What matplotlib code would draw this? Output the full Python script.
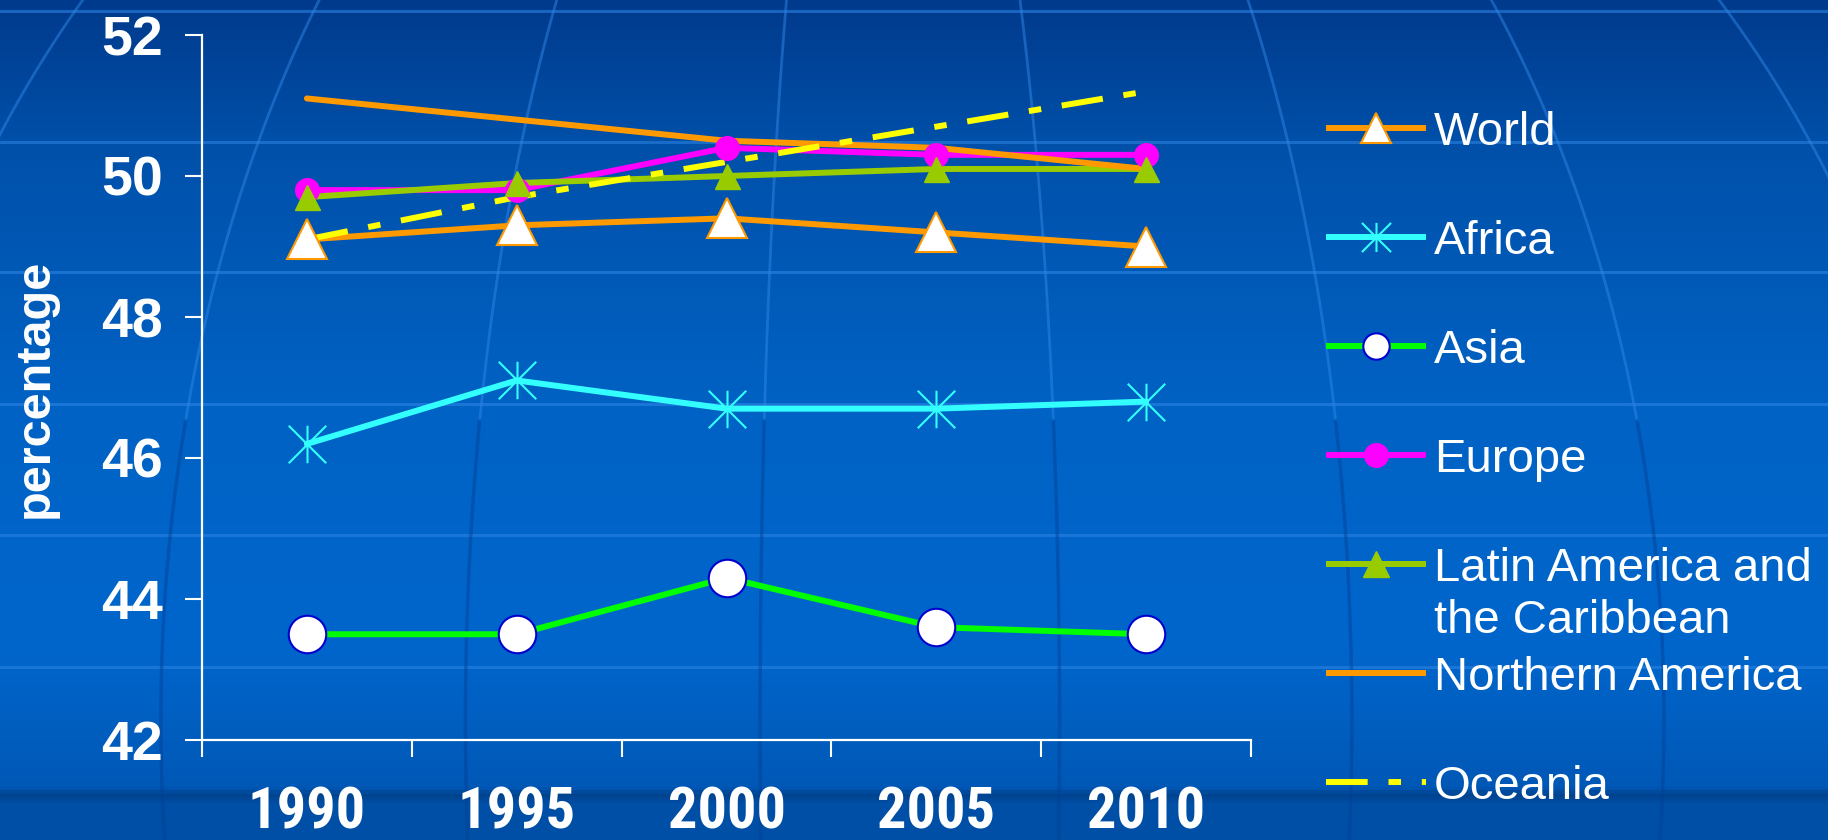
import numpy as np
import matplotlib
import matplotlib.pyplot as plt
from matplotlib.colors import LinearSegmentedColormap
from matplotlib.path import Path

matplotlib.rcParams['lines.scale_dashes'] = False

# --------------------------------------------------------------------
# data
years = ['1990', '1995', '2000', '2005', '2010']
world = [49.1, 49.3, 49.4, 49.2, 49.0]
africa = [46.2, 47.1, 46.7, 46.7, 46.8]
asia = [43.5, 43.5, 44.3, 43.6, 43.5]
europe = [49.8, 49.8, 50.4, 50.3, 50.3]
latin_america = [49.7, 49.9, 50.0, 50.1, 50.1]
northern_america = [51.1, 50.8, 50.5, 50.4, 50.1]
oceania = [49.1, 49.7, 50.2, 50.7, 51.2]

labels = ['World', 'Africa', 'Asia', 'Europe',
          'Latin America and\nthe Caribbean', 'Northern America', 'Oceania']

NARROW = ['Roboto Condensed', 'Liberation Sans']
REGULAR = ['Liberation Sans']

# X plus vertical bar, like the office "asterisk" marker
asterisk = Path([(-1, -1), (1, 1), (-1, 1), (1, -1), (0, -1), (0, 1)],
                [Path.MOVETO, Path.LINETO, Path.MOVETO, Path.LINETO,
                 Path.MOVETO, Path.LINETO])

LW = 4.3
DASH = (0, (30, 15, 9, 15))

# style per series: line colour, linestyle, marker kwargs (plot), marker size in legend
styles = [
    dict(color='#ff9900', ls='-', mk=dict(marker='^', ms=29, mfc='white', mec='#ff9900', mew=1.5), lms=21),
    dict(color='#33ffff', ls='-', mk=dict(marker=asterisk, ms=27, mfc='none', mec='#33ffff', mew=1.5), lms=21),
    dict(color='#00ff00', ls='-', mk=dict(marker='o', ms=27, mfc='white', mec='#0000cc', mew=1.5), lms=19),
    dict(color='#ff00ff', ls='-', mk=dict(marker='o', ms=17, mfc='#ff00ff', mec='#ff00ff', mew=1), lms=17),
    dict(color='#99cc00', ls='-', mk=dict(marker='^', ms=18, mfc='#99cc00', mec='#99cc00', mew=1), lms=19),
    dict(color='#ff9900', ls='-', mk=None, lms=0),
    dict(color='#ffff00', ls=DASH, mk=None, lms=0),
]
series = [world, africa, asia, europe, latin_america, northern_america, oceania]

# --------------------------------------------------------------------
fig = plt.figure(figsize=(18.28, 8.4), dpi=100)

# background: blue gradient with a faint globe grid
bg = fig.add_axes([0, 0, 1, 1])
bg.set_xlim(0, 1828)
bg.set_ylim(840, 0)
bg.axis('off')
cmap = LinearSegmentedColormap.from_list('bg', [
    (0.0, '#003a8c'), (0.17, '#0050a9'), (0.48, '#0062c4'),
    (0.77, '#0066cc'), (0.94, '#0058b6'), (0.948, '#00438f'),
    (0.96, '#004fa6'), (1.0, '#004fa6')])
grad = np.linspace(0, 1, 840).reshape(-1, 1)
bg.imshow(grad, cmap=cmap, aspect='auto', extent=(0, 1828, 840, 0), zorder=0)

for y in [11, 142, 272, 404, 535, 667]:
    bg.axhline(y, color='#2f86e6', lw=2.2, alpha=0.55, zorder=1)

lat = np.linspace(-0.15, 0.75, 200)
for lon in [-0.75, -0.5, -0.28, -0.08, 0.12, 0.32, 0.55, 0.8]:
    xs = 880 + 1500 * np.sin(lon) * np.cos(lat)
    ys = 720 - 1150 * np.sin(lat)
    top = ys < 420
    bg.plot(xs[top], ys[top], color='#2f86e6', lw=2, alpha=0.5, zorder=1)
    bg.plot(xs[~top], ys[~top], color='#003f95', lw=2.5, alpha=0.45, zorder=1)

# --------------------------------------------------------------------
ax = fig.add_axes([202 / 1828, 100 / 840, 1049 / 1828, 705 / 840])
ax.set_facecolor('none')
x = np.arange(len(years))

for i, (vals, st) in enumerate(zip(series, styles)):
    ax.plot(x, vals, color=st['color'], linestyle=st['ls'], lw=LW,
            solid_capstyle='round', dash_capstyle='butt', zorder=3 + i)
    if st['mk'] is not None:
        ax.plot(x, vals, linestyle='none', zorder=12 + i, **st['mk'])

ax.set_xlim(-0.5, len(years) - 0.5)
ax.set_ylim(42, 52)
ax.set_yticks(np.arange(42, 53, 2))
ax.set_xticks(x)
ax.set_xticklabels(years)
ax.set_xticks(np.arange(-0.5, len(years), 1), minor=True)

for side in ['top', 'right']:
    ax.spines[side].set_visible(False)
for side in ['left', 'bottom']:
    ax.spines[side].set_color('white')
    ax.spines[side].set_linewidth(1.6)

ax.tick_params(axis='y', colors='white', length=12, width=1.5, pad=16)
ax.tick_params(axis='x', which='major', length=0, pad=33, colors='white')
ax.tick_params(axis='x', which='minor', length=12, width=1.5, color='white')
for t in ax.get_yticklabels():
    t.set_fontfamily(REGULAR)
    t.set_fontweight('bold')
    t.set_fontsize(40)
for t in ax.get_xticklabels():
    t.set_fontfamily(NARROW)
    t.set_fontweight('bold')
    t.set_fontsize(42)

fig.text(35 / 1828, 1 - 388 / 840, 'percentage', rotation=90, color='white',
         fontsize=35, fontweight='bold', family=REGULAR, ha='center', va='center')

# --------------------------------------------------------------------
# legend: evenly spaced rows, handle on the first text line
lax = fig.add_axes([1326 / 1828, 0, 100 / 1828, 1])
lax.set_xlim(0, 100)
lax.set_ylim(840, 0)
lax.axis('off')
row0, step, line_gap = 128, 109, 52
for i, (lab, st) in enumerate(zip(labels, styles)):
    yy = row0 + i * step
    lax.plot([0, 100], [yy, yy], color=st['color'], linestyle=st['ls'], lw=LW,
             solid_capstyle='butt', dash_capstyle='butt')
    if st['mk'] is not None:
        mk = dict(st['mk'])
        mk['ms'] = st['lms']
        lax.plot([50], [yy], linestyle='none', **mk)
    for k, part in enumerate(lab.split('\n')):
        lax.text(108, yy + 17 + k * line_gap, part, color='white', fontsize=34,
                 family=REGULAR, ha='left', va='baseline', clip_on=False)

fig.savefig('out.png', dpi=100)
